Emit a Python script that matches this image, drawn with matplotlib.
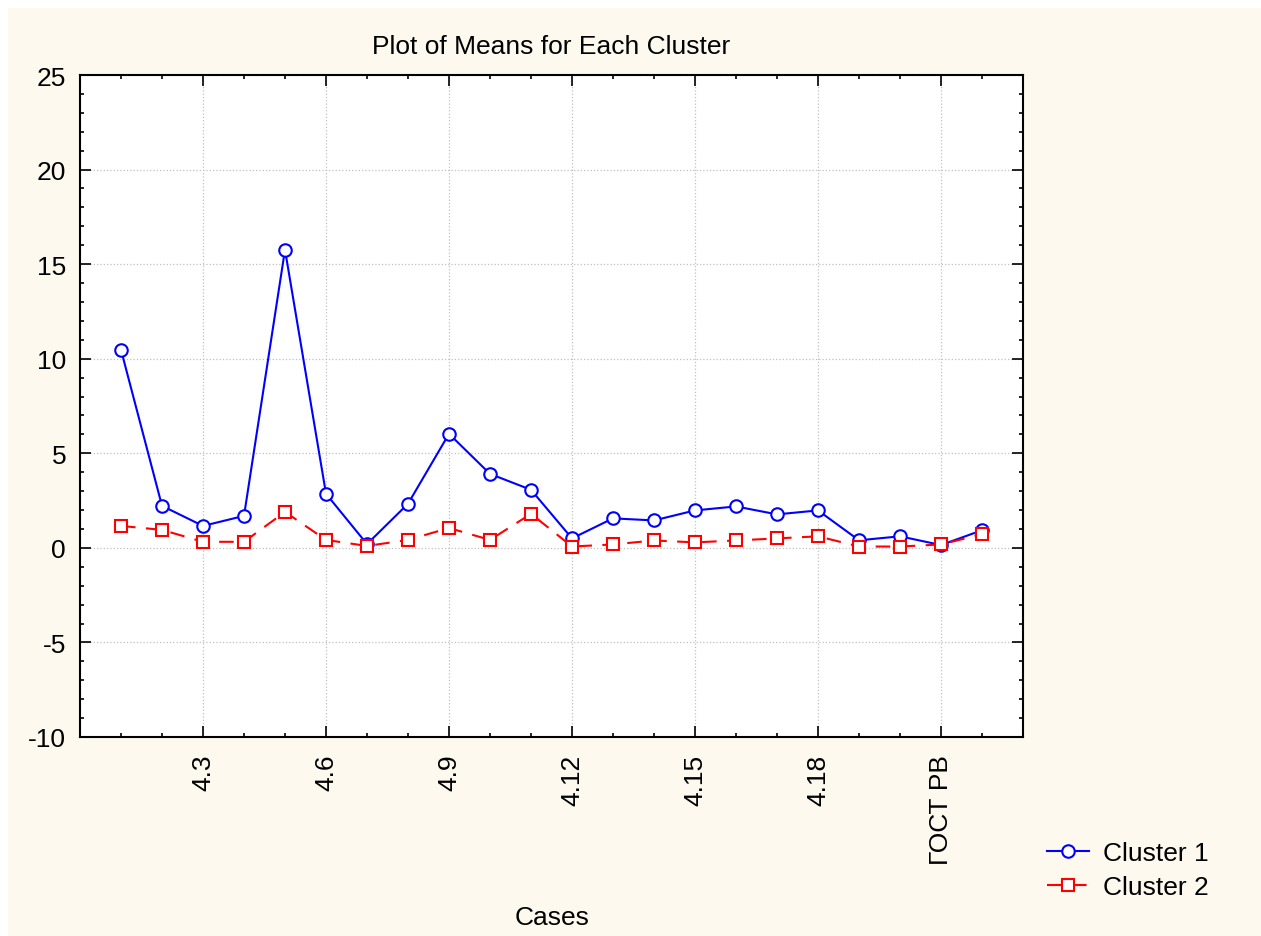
import matplotlib.pyplot as plt
from matplotlib.patches import Rectangle
from matplotlib.ticker import MultipleLocator, FixedLocator

plt.rcParams['font.family'] = ['Liberation Sans', 'DejaVu Sans']
plt.rcParams['axes.unicode_minus'] = False

cases = ['4.1', '4.2', '4.3', '4.4', '4.5', '4.6', '4.7', '4.8', '4.9', '4.10',
         '4.11', '4.12', '4.13', '4.14', '4.15', '4.16', '4.17', '4.18', '4.19',
         '4.20', 'ГОСТ РВ', 'ТУ']
cluster1 = [10.47, 2.22, 1.16, 1.69, 15.76, 2.86, 0.2, 2.33, 6.03, 3.91, 3.07,
            0.5, 1.56, 1.45, 1.98, 2.19, 1.77, 1.98, 0.4, 0.61, 0.15, 0.93]
cluster2 = [1.16, 0.95, 0.32, 0.32, 1.9, 0.42, 0.1, 0.42, 1.05, 0.42, 1.8,
            0.07, 0.18, 0.39, 0.29, 0.39, 0.5, 0.61, 0.07, 0.07, 0.18, 0.72]

bg = '#fef9ee'
fs = 19
fig = plt.figure(figsize=(12.61, 9.37), dpi=100)
fig.patch.set_facecolor('white')
fig.patches.append(Rectangle((8 / 1261, 0), 1 - 8 / 1261, 1 - 9 / 937,
                             transform=fig.transFigure, facecolor=bg,
                             edgecolor='none', zorder=-10))
ax = fig.add_axes([80 / 1261, 1 - 738 / 937, 943 / 1261, 662 / 937])
ax.set_facecolor('white')

x = list(range(len(cases)))
ax.plot(x, cluster1, '-', color='#0000ff', lw=1.5, marker='o', ms=9,
        mfc='white', mec='#0000ff', mew=1.5, label='Cluster 1', zorder=3)
ax.plot(x, cluster2, '--', color='#ff0000', lw=1.5, marker='s', ms=9,
        mfc='white', mec='#ff0000', mew=1.5, dashes=(7, 5), label='Cluster 2', zorder=3)

ax.set_xlim(-1, 22)
ax.set_ylim(-10, 25)
major = x[2::3]
ax.xaxis.set_major_locator(FixedLocator(major))
ax.set_xticklabels([cases[i] for i in major], rotation=90)
ax.xaxis.set_minor_locator(FixedLocator(x))
ax.yaxis.set_major_locator(MultipleLocator(5))
ax.yaxis.set_minor_locator(MultipleLocator(1))
ax.tick_params(which='both', direction='in', top=True, right=True, labelsize=fs, width=1.2)
ax.tick_params(which='major', length=8)
ax.tick_params(axis='x', which='major', pad=12)
ax.tick_params(axis='y', which='major', pad=10)
ax.tick_params(which='minor', length=3)
ax.grid(True, which='major', color='#c0c0c0', linestyle=':', lw=0.9)
for s in ax.spines.values():
    s.set_linewidth(1.5)

ax.set_title('Plot of Means for Each Cluster', fontsize=fs, pad=16)
fig.text(552 / 1261, 1 - 918 / 937, 'Cases', fontsize=fs, ha='center', va='center')
ax.legend(loc='upper left', bbox_to_anchor=(1023 / 1261, 1 - 818 / 937),
          bbox_transform=fig.transFigure, frameon=False, fontsize=fs,
          handlelength=1.6, handletextpad=0.55, labelspacing=0.4)

fig.savefig('out.png', dpi=100, facecolor=fig.get_facecolor())
